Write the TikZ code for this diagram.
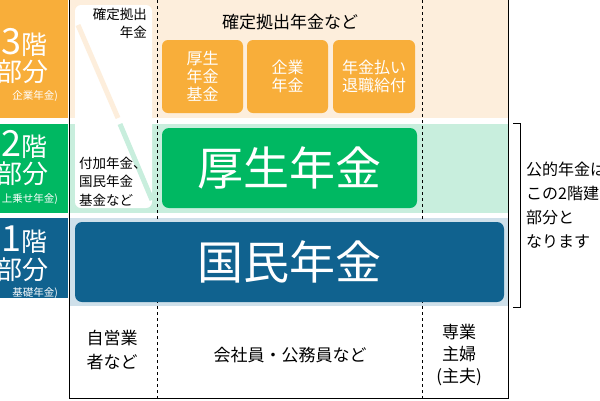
\documentclass[tikz,border=0pt]{standalone}
\usepackage{fontspec}
\setmainfont{Noto Sans CJK JP}
\begin{document}
\begin{tikzpicture}[x=1pt,y=-1pt,
  lbl/.style={text=white,align=right,anchor=east,inner sep=0},
  sbox/.style={fill=orangeD,rounded corners=6pt,text=white,font=\fontsize{16}{18}\selectfont,align=center,inner sep=0},
  txt/.style={align=center,inner sep=0,font=\fontsize{17}{20}\selectfont}]
\definecolor{orangeD}{HTML}{F8AE3A}
\definecolor{orangeL}{HTML}{FDEEDC}
\definecolor{greenD}{HTML}{00B862}
\definecolor{greenL}{HTML}{C8EEDD}
\definecolor{blueD}{HTML}{10628F}
\definecolor{blueL}{HTML}{CFE0EA}
\useasboundingbox (0,0) rectangle (600,400);
\clip (0,0) rectangle (600,400);
% left column
\fill[orangeD] (0,0) rectangle (68,118);
\fill[greenD] (0,124) rectangle (68,213);
\fill[blueD] (0,218) rectangle (68,298);
\node[lbl] (l3a) at (48,42) {\fontsize{36}{38}\selectfont 3\fontsize{26}{28}\selectfont 階};
\node[lbl] (l3b) at (49,72) {\fontsize{26}{28}\selectfont 部分};
\node[lbl] (l3c) at (58,96) {\fontsize{10.5}{12}\selectfont 企業年金)};
\node[lbl] (l2a) at (48,144) {\fontsize{36}{38}\selectfont 2\fontsize{26}{28}\selectfont 階};
\node[lbl] (l2b) at (49,174) {\fontsize{26}{28}\selectfont 部分};
\node[lbl] (l2c) at (58,199) {\fontsize{10.5}{12}\selectfont 上乗せ年金)};
\node[lbl] (l1a) at (48,240) {\fontsize{36}{38}\selectfont 1\fontsize{26}{28}\selectfont 階};
\node[lbl] (l1b) at (49,270) {\fontsize{26}{28}\selectfont 部分};
\node[lbl] (l1c) at (58,293) {\fontsize{10.5}{12}\selectfont 基礎年金)};
% bands
\fill[orangeL] (69,0) rectangle (508,118);
\fill[greenL] (69,124) rectangle (508,213);
\fill[blueL] (69,218) rectangle (508,306);
% white area col1
\fill[white,rounded corners=6pt] (75,5) rectangle (152,208);
\draw[orangeL,line width=5pt] (78,25) -- (118,118);
\draw[greenL,line width=5pt] (120,124) -- (152,200);
\node[txt,anchor=north east,font=\fontsize{13.5}{18}\selectfont,align=right] (dc) at (147,8) {確定拠出\\年金};
\node[txt,anchor=south west,font=\fontsize{13.5}{18.5}\selectfont,align=left] (fk) at (79,206) {付加年金、\\国民年金\\基金など};
% dashed and frame
\draw[dashed,line width=0.5pt] (157,0) -- (157,400);
\draw[dashed,line width=0.5pt] (422,0) -- (422,400);
\draw[line width=0.8pt] (69,0) -- (69,398) -- (508,398) -- (508,0);
% top
\node[txt,font=\fontsize{17}{20}\selectfont] (t) at (290,22) {確定拠出年金など};
\node[sbox,minimum width=81,minimum height=73] (b1) at (202.5,76.5) {厚生\\年金\\基金};
\node[sbox,minimum width=81,minimum height=73] (b2) at (287.5,76.5) {企業\\年金};
\node[sbox,minimum width=82,minimum height=73] (b3) at (374,76.5) {年金払い\\退職給付};
\node[fill=greenD,rounded corners=7pt,minimum width=255,minimum height=80,text=white,font=\fontsize{46}{50}\selectfont] (kn) at (289.5,168) {厚生年金};
\node[fill=blueD,rounded corners=7pt,minimum width=429,minimum height=80,text=white,font=\fontsize{46}{50}\selectfont] (km) at (289.5,262) {国民年金};
% bottom
\node[txt,font=\fontsize{17}{24}\selectfont] (s1) at (112,350) {自営業\\者など};
\node[txt] (s2) at (290,355) {会社員・公務員など};
\node[txt,font=\fontsize{17}{22}\selectfont] (s3) at (459,355) {専業\\主婦\\(主夫)};
% bracket
\coordinate (bt) at (513,123);
\coordinate (bb) at (513,307);
\draw[line width=0.8pt] (bt) -- ++(7,0) -- ++(0,184) -- (bb);
\node[anchor=west,align=left,inner sep=0,font=\fontsize{16}{24}\selectfont] (r) at (526,205) {公的年金は\\この2階建て\\部分と\\なります};
\end{tikzpicture}
\end{document}
